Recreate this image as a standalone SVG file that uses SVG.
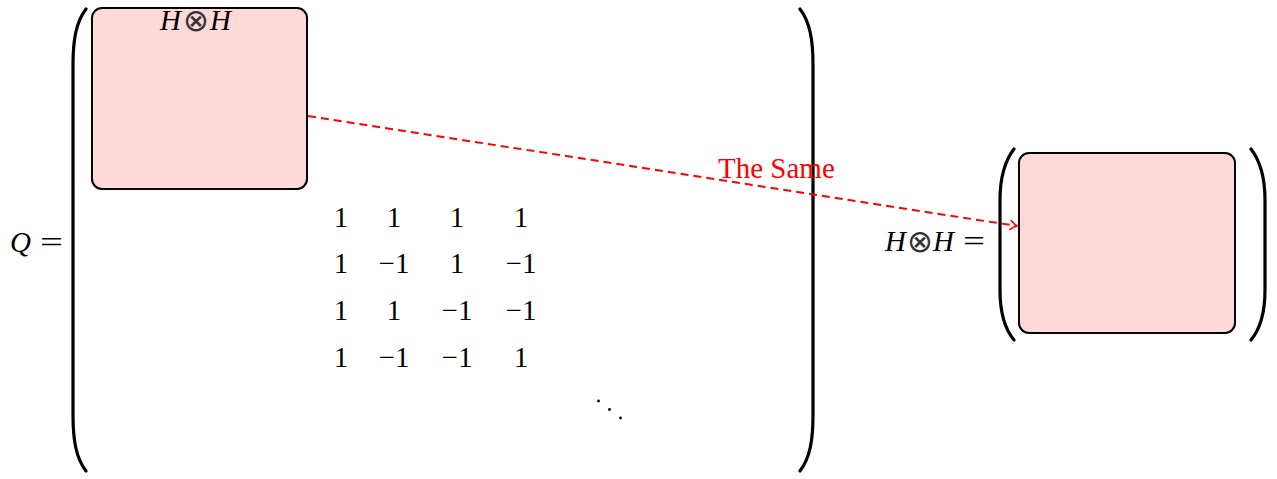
<svg xmlns="http://www.w3.org/2000/svg" width="1277" height="479" viewBox="0 0 1277 479">
<style>
.t{font-family:"Liberation Serif","Times New Roman",serif;fill:#000;font-size:29px;}
.i{font-style:italic;}
.o{font-family:"DejaVu Sans ExtraLight","DejaVu Sans",sans-serif;font-size:31px;font-weight:200;fill:#333;}
.paren{fill:none;stroke:#000;stroke-width:3.2;stroke-linecap:round;}
.box{fill:#ffd9d9;stroke:#000;stroke-width:2;}
.conn{fill:none;stroke:#ff0000;stroke-width:2;stroke-dasharray:8,5;}
</style>
<defs>
<marker id="ah" markerWidth="10" markerHeight="12" refX="8" refY="6" orient="auto" markerUnits="userSpaceOnUse">
<path d="M1,1 Q5,5 8,6 Q5,7 1,11" fill="none" stroke="#ff0000" stroke-width="1.6"/>
</marker>
</defs>
<g id="Q-matrix">
<text class="t" x="10" y="252"><tspan class="i">Q</tspan><tspan x="40" textLength="23" lengthAdjust="spacingAndGlyphs">=</tspan></text>
<path class="paren" d="M86 9 C76 22 73 40 73 65 L73 415 C73 440 76 458 86 471"/>
<path class="paren" d="M800 9 C810 22 813 40 813 65 L813 415 C813 440 810 458 800 471"/>
<g text-anchor="middle">
<text class="t" x="341" y="227">1</text><text class="t" x="394" y="227">1</text><text class="t" x="457" y="227">1</text><text class="t" x="521" y="227">1</text>
<text class="t" x="341" y="273">1</text><text class="t" x="394" y="273">−1</text><text class="t" x="457" y="273">1</text><text class="t" x="521" y="273">−1</text>
<text class="t" x="341" y="320">1</text><text class="t" x="394" y="320">1</text><text class="t" x="457" y="320">−1</text><text class="t" x="521" y="320">−1</text>
<text class="t" x="341" y="367">1</text><text class="t" x="394" y="367">−1</text><text class="t" x="457" y="367">−1</text><text class="t" x="521" y="367">1</text>
</g>
<g fill="#000"><circle cx="598.5" cy="401" r="1.4"/><circle cx="609.5" cy="409.5" r="1.4"/><circle cx="620.5" cy="418" r="1.4"/></g>
</g>
<g id="box-left">
<rect class="box" x="92" y="8" width="215" height="181" rx="10"/>
<text class="t" x="160" y="30"><tspan class="i">H</tspan><tspan class="o" dx="2" dy="1">⊗</tspan><tspan class="i" dx="1" dy="-1">H</tspan></text>
</g>
<g id="HH-matrix">
<text class="t" x="885" y="251"><tspan class="i">H</tspan><tspan class="o" dx="1" dy="1">⊗</tspan><tspan class="i" dx="0" dy="-1">H</tspan><tspan x="963" textLength="22" lengthAdjust="spacingAndGlyphs">=</tspan></text>
<path class="paren" d="M1014 149 C1004 162 1000 180 1000 200 L1000 290 C1000 310 1004 328 1014 340"/>
<path class="paren" d="M1251 149 C1261 162 1265 180 1265 200 L1265 290 C1265 310 1261 328 1251 340"/>
</g>
<g id="box-right">
<rect class="box" x="1019" y="153" width="216" height="180" rx="10"/>
</g>
<g id="connectors">
<line class="conn" x1="308" y1="116" x2="1017" y2="226" marker-end="url(#ah)"/>
<text class="t" x="718" y="178" style="fill:#ff0000">The Same</text>
</g>
</svg>
